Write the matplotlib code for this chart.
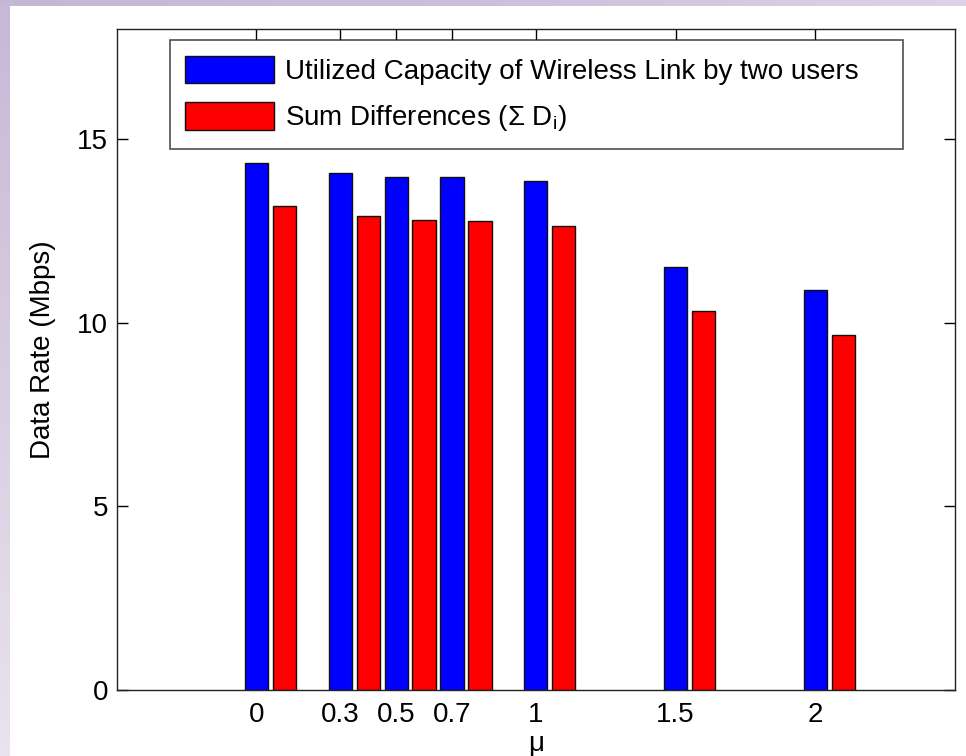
import matplotlib
matplotlib.use('Agg')
import matplotlib.pyplot as plt
import numpy as np

plt.rcParams['font.family'] = ['Liberation Sans', 'DejaVu Sans']
plt.rcParams['mathtext.fontset'] = 'custom'
plt.rcParams['mathtext.rm'] = 'Liberation Sans'

# mu values and the two data rate series (Mbps)
mu = [0, 0.3, 0.5, 0.7, 1, 1.5, 2]
capacity = [14.36, 14.07, 13.97, 13.97, 13.85, 11.53, 10.90]
sum_diff = [13.17, 12.91, 12.80, 12.77, 12.64, 10.32, 9.68]
labels = ['Utilized Capacity of Wireless Link by two users',
          r'Sum Differences ($\Sigma$ D$_\mathregular{i}$)']
mu_ticks = ['0', '0.3', '0.5', '0.7', '1', '1.5', '2']

FS = 20

fig = plt.figure(figsize=(9.66, 7.56), dpi=100)
fig.patch.set_facecolor('white')

# lavender slide border on the left and top
W, H = 966, 756
band_l = fig.add_axes([0, 0, 10 / W, 1])
band_l.imshow(np.linspace(0, 1, 64)[:, None], cmap=matplotlib.colors.LinearSegmentedColormap.from_list(
    'l', ['#c7b8d6', '#e8e3ec']), aspect='auto', origin='upper')
band_l.axis('off')
band_t = fig.add_axes([0, 1 - 6 / H, 1, 6 / H])
band_t.imshow(np.linspace(0, 1, 64)[None, :], cmap=matplotlib.colors.LinearSegmentedColormap.from_list(
    't', ['#c6b6d6', '#cdbfdb', '#ddd3e6']), aspect='auto')
band_t.axis('off')

ax = fig.add_axes([116.7 / W, 1 - 690 / H, (955 - 116.7) / W, (690 - 29) / H])
x = np.array(mu)
w = 0.083
ax.bar(x, capacity, width=w, color='#0000ff', edgecolor='#101010', linewidth=1.0, label=labels[0])
ax.bar(x + 0.1, sum_diff, width=w, color='#ff0000', edgecolor='#101010', linewidth=1.0, label=labels[1])

ax.set_xlim(-0.5, 2.5)
ax.set_ylim(0, 18)
ax.set_xticks(mu)
ax.set_xticklabels(mu_ticks)
ax.set_yticks([0, 5, 10, 15])
ax.set_axisbelow(True)
ax.tick_params(direction='in', length=8, width=1, top=True, right=True, labelsize=FS, colors='black')
ax.tick_params(axis='x', pad=9)
ax.tick_params(axis='y', pad=6)
for s in ax.spines.values():
    s.set_linewidth(1.0)
    s.set_color('#222222')

ax.set_ylabel('Data Rate (Mbps)', fontsize=FS)
ax.yaxis.set_label_coords(-0.072, 0.515)
ax.set_xlabel('μ', fontsize=FS, labelpad=2)

leg = ax.legend(loc='upper left', bbox_to_anchor=(0.0636, 0.983, 0.8744, 0.0), mode='expand',
                fontsize=FS, frameon=True, fancybox=False, edgecolor='#222222',
                handlelength=3.2, handleheight=1.15, handletextpad=0.4, labelspacing=0.63,
                borderpad=0.55, borderaxespad=0)
leg.get_frame().set_linewidth(1.2)

fig.savefig('out.png', dpi=100)
